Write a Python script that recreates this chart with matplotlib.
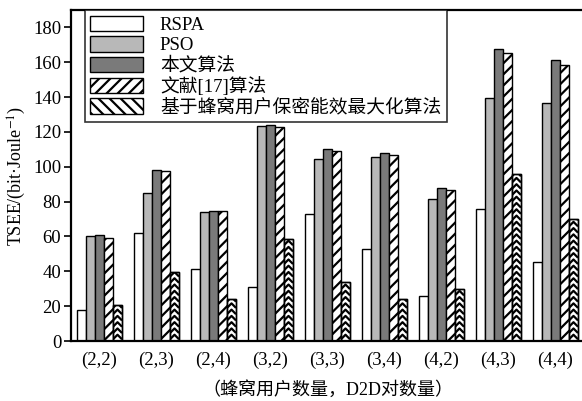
import numpy as np
import matplotlib
matplotlib.use("Agg")
import matplotlib.pyplot as plt
from matplotlib.patches import Patch
from matplotlib.collections import LineCollection

plt.rcParams["font.family"] = ["Liberation Serif", "Noto Sans CJK SC"]
plt.rcParams["mathtext.fontset"] = "stix"
plt.rcParams["hatch.linewidth"] = 1.6

groups = ["(2,2)", "(2,3)", "(2,4)", "(3,2)", "(3,3)", "(3,4)", "(4,2)", "(4,3)", "(4,4)"]
names = ["RSPA", "PSO", "本文算法", "文献[17]算法", "基于蜂窝用户保密能效最大化算法"]

rspa = [18, 62, 41.3, 30.8, 72.8, 52.6, 26, 76, 45.5]
pso = [60.2, 85, 74, 123.3, 104.2, 105.8, 81.8, 139.3, 136.8]
ours = [60.8, 98.2, 74.5, 124, 110.5, 107.8, 87.8, 167.8, 161.2]
ref17 = [59.4, 97.5, 74.5, 123, 109.3, 106.8, 86.7, 165.5, 158.6]
cellular = [20.6, 39.7, 24, 58.3, 34, 23.9, 29.6, 95.8, 69.8]

fig = plt.figure(figsize=(5.82, 4.01), dpi=100)
ax = fig.add_axes([0.122, 0.1496, 0.8814, 0.8254])

x = np.arange(len(groups))
w = 0.158
ec = "black"
lw = 1.0

ax.bar(x - 2 * w, rspa, w, color="white", edgecolor=ec, linewidth=lw)
ax.bar(x - w, pso, w, color="#b8b8b8", edgecolor=ec, linewidth=lw)
ax.bar(x, ours, w, color="#7a7a7a", edgecolor=ec, linewidth=lw)
ax.bar(x + w, ref17, w, color="white", edgecolor=ec, linewidth=lw, hatch="///")
last = ax.bar(x + 2 * w, cellular, w, color="white", edgecolor=ec, linewidth=lw, zorder=2)

# herringbone fill for the last series, clipped to each bar
rise = 2.6
step = 3.6
for rect in last:
    x0 = rect.get_x()
    xm = x0 + rect.get_width() / 2
    x1 = x0 + rect.get_width()
    h = rect.get_height()
    segs = []
    for yb in np.arange(-rise, h + step, step):
        segs.append([(x0, yb), (xm, yb + rise), (x1, yb)])
    lc = LineCollection(segs, colors="black", linewidths=1.6, zorder=2.5)
    ax.add_collection(lc)
    lc.set_clip_path(rect)
    edge = plt.Rectangle((x0, 0), rect.get_width(), h, fill=False,
                         edgecolor=ec, linewidth=lw, zorder=3)
    ax.add_patch(edge)

ax.set_xlim(-0.5, len(groups) - 0.5)
ax.set_ylim(0, 190)
ax.set_yticks(np.arange(0, 181, 20))
ax.set_xticks(x)
ax.set_xticklabels(groups)
ax.tick_params(axis="x", length=0, labelsize=13.5, pad=8)
ax.tick_params(axis="y", direction="out", length=5, width=1.2, labelsize=13.5, pad=2)
for s in ["left", "bottom", "top"]:
    ax.spines[s].set_linewidth(1.6)
ax.spines["right"].set_visible(False)

ax.set_ylabel("TSEE/(bit·Joule$^{-1}$)", fontsize=13, labelpad=4)
ax.set_xlabel("（蜂窝用户数量，D2D对数量）", fontsize=13, labelpad=8)

handles = [
    Patch(facecolor="white", edgecolor=ec, linewidth=lw),
    Patch(facecolor="#b8b8b8", edgecolor=ec, linewidth=lw),
    Patch(facecolor="#7a7a7a", edgecolor=ec, linewidth=lw),
    Patch(facecolor="white", edgecolor=ec, linewidth=lw, hatch="///"),
    Patch(facecolor="white", edgecolor=ec, linewidth=lw, hatch="\\\\\\"),
]
leg = ax.legend(handles, names, loc="upper left", bbox_to_anchor=(0.027, 1.0),
                borderaxespad=0, fontsize=13.5, frameon=True, fancybox=False,
                edgecolor="black", handlelength=2.8, handleheight=0.9,
                labelspacing=0.12, borderpad=0.3, handletextpad=0.9)
leg.get_frame().set_linewidth(1.2)
leg.set_zorder(10)

fig.savefig("out.png", dpi=100)
